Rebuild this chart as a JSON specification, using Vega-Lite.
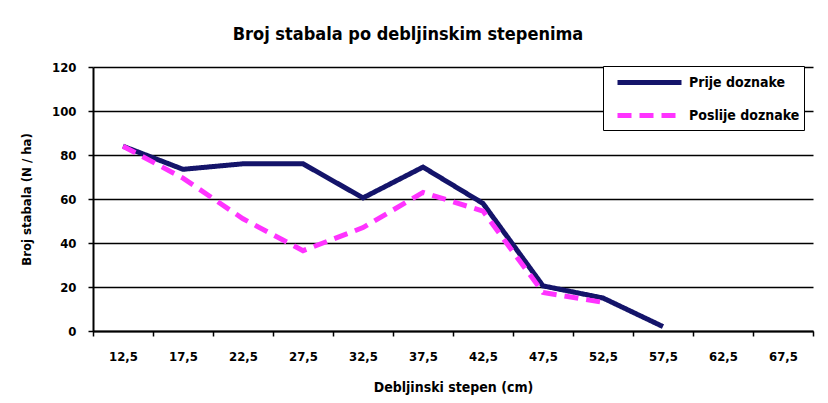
{
  "$schema": "https://vega.github.io/schema/vega-lite/v6.json",
  "width": 720,
  "height": 264,
  "autosize": "none",
  "padding": {"left": 93, "top": 67, "right": 15, "bottom": 72},
  "background": "white",
  "title": {
    "text": "Broj stabala po debljinskim stepenima",
    "font": "DejaVu Sans Condensed, Liberation Sans",
    "fontSize": 18,
    "fontWeight": "bold",
    "anchor": "middle",
    "dx": -45,
    "offset": 17,
    "color": "black"
  },
  "data": {
    "values": [
      {"d": "12,5", "s": "Prije doznake", "n": 84},
      {"d": "17,5", "s": "Prije doznake", "n": 73.5},
      {"d": "22,5", "s": "Prije doznake", "n": 76},
      {"d": "27,5", "s": "Prije doznake", "n": 76},
      {"d": "32,5", "s": "Prije doznake", "n": 60.5},
      {"d": "37,5", "s": "Prije doznake", "n": 74.5},
      {"d": "42,5", "s": "Prije doznake", "n": 58},
      {"d": "47,5", "s": "Prije doznake", "n": 20.5},
      {"d": "52,5", "s": "Prije doznake", "n": 15},
      {"d": "57,5", "s": "Prije doznake", "n": 2},
      {"d": "12,5", "s": "Poslije doznake", "n": 84},
      {"d": "17,5", "s": "Poslije doznake", "n": 69.5},
      {"d": "22,5", "s": "Poslije doznake", "n": 51},
      {"d": "27,5", "s": "Poslije doznake", "n": 36.5},
      {"d": "32,5", "s": "Poslije doznake", "n": 47},
      {"d": "37,5", "s": "Poslije doznake", "n": 63},
      {"d": "42,5", "s": "Poslije doznake", "n": 54.5},
      {"d": "47,5", "s": "Poslije doznake", "n": 17.5},
      {"d": "52,5", "s": "Poslije doznake", "n": 13}
    ]
  },
  "mark": {"type": "line", "strokeWidth": 5, "strokeCap": "butt", "strokeJoin": "miter"},
  "encoding": {
    "x": {
      "field": "d",
      "type": "ordinal",
      "sort": null,
      "scale": {
        "type": "band",
        "domain": ["12,5","17,5","22,5","27,5","32,5","37,5","42,5","47,5","52,5","57,5","62,5","67,5"],
        "paddingInner": 0,
        "paddingOuter": 0
      },
      "axis": {
        "title": "Debljinski stepen (cm)",
        "labelAngle": 0,
        "tickBand": "extent",
        "domainColor": "black",
        "domainWidth": 2,
        "tickColor": "black",
        "tickWidth": 1.5,
        "tickSize": 5,
        "labelPadding": 14,
        "labelFont": "DejaVu Sans Condensed, Liberation Sans",
        "labelFontSize": 13,
        "labelFontWeight": "bold",
        "labelColor": "black",
        "titleFont": "DejaVu Sans Condensed, Liberation Sans",
        "titleFontSize": 14,
        "titleFontWeight": "bold",
        "titleColor": "black",
        "titlePadding": 17
      }
    },
    "y": {
      "field": "n",
      "type": "quantitative",
      "scale": {"domain": [0, 120], "nice": false},
      "axis": {
        "title": "Broj stabala (N / ha)",
        "values": [0, 20, 40, 60, 80, 100, 120],
        "grid": true,
        "gridColor": "black",
        "gridWidth": 1.5,
        "gridOpacity": 1,
        "domainColor": "black",
        "domainWidth": 2,
        "tickColor": "black",
        "tickWidth": 1.5,
        "tickSize": 5,
        "labelPadding": 12,
        "labelFont": "DejaVu Sans Condensed, Liberation Sans",
        "labelFontSize": 13,
        "labelFontWeight": "bold",
        "labelColor": "black",
        "titleFont": "DejaVu Sans Condensed, Liberation Sans",
        "titleFontSize": 13,
        "titleFontWeight": "bold",
        "titleColor": "black",
        "titlePadding": 18
      }
    },
    "color": {
      "field": "s",
      "type": "nominal",
      "scale": {"domain": ["Prije doznake", "Poslije doznake"], "range": ["#14146a", "#ff33ff"]},
      "legend": {
        "title": null,
        "orient": "none",
        "legendX": 510,
        "legendY": -1,
        "symbolType": "M-3.2,0H3.2",
        "symbolSize": 400,
        "symbolStrokeWidth": 5,
        "symbolOffset": 30,
        "labelOffset": 27,
        "labelFont": "DejaVu Sans Condensed, Liberation Sans",
        "labelFontSize": 14,
        "labelFontWeight": "bold",
        "labelColor": "black",
        "rowPadding": 10,
        "padding": 4,
        "strokeColor": "black",
        "fillColor": "white"
      }
    },
    "strokeDash": {
      "field": "s",
      "type": "nominal",
      "scale": {"domain": ["Prije doznake", "Poslije doznake"], "range": [[1, 0], [14, 8]]},
      "legend": null
    }
  },
  "config": {"view": {"stroke": null}}
}
